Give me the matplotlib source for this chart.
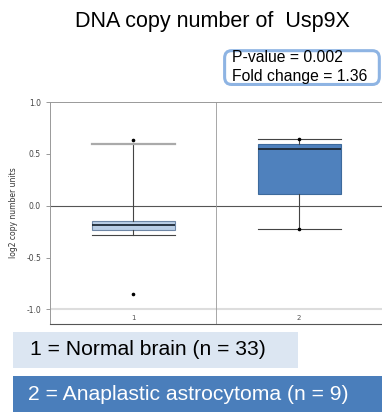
import matplotlib
matplotlib.use("Agg")
import matplotlib.pyplot as plt
from matplotlib.patches import FancyBboxPatch, Rectangle

# 數據
groups = ["1", "2"]
q1 = [-0.235, 0.11]
med = [-0.19, 0.55]
q3 = [-0.145, 0.60]
whislo = [-0.28, -0.22]
whishi = [0.60, 0.645]
fliers = [[0.63, -0.85], [0.645, -0.22]]
legend_labels = ["1 = Normal brain (n = 33)", "2 = Anaplastic astrocytoma (n = 9)"]
stats_text = ["P-value = 0.002", "Fold change = 1.36"]

box_colors = ["#b9cde5", "#4f81bd"]
box_edges = ["#6f87a6", "#3d6a9c"]

fig = plt.figure(figsize=(3.82, 4.12), dpi=100)
ax = fig.add_axes([0.131, 0.214, 0.869, 0.538])

stats = []
for i in range(len(groups)):
    stats.append(dict(med=med[i], q1=q1[i], q3=q3[i], whislo=whislo[i],
                      whishi=whishi[i], fliers=fliers[i], label=groups[i]))

bp = ax.bxp(stats, positions=[1, 2], widths=0.5, capwidths=0.5, patch_artist=True,
            showfliers=True, manage_ticks=False,
            flierprops=dict(marker="o", markersize=1.6, markerfacecolor="black",
                            markeredgecolor="black"),
            medianprops=dict(color="#1f2a36", linewidth=1.3),
            whiskerprops=dict(color="#444444", linewidth=0.8),
            capprops=dict(color="#444444", linewidth=0.8))
for patch, fc, ec in zip(bp["boxes"], box_colors, box_edges):
    patch.set_facecolor(fc)
    patch.set_edgecolor(ec)
    patch.set_linewidth(0.8)
# 第一組上方 cap 為淺灰色粗線
bp["caps"][1].set_color("#aaaaaa")
bp["caps"][1].set_linewidth(1.6)

ax.set_xlim(0.5, 2.5)
ax.set_ylim(-1.14, 1.0)
ax.axhline(0, color="#555555", linewidth=0.8, zorder=0)
ax.axhline(-1.0, color="#dddddd", linewidth=1.5, zorder=0)
ax.axvline(1.5, color="#999999", linewidth=0.6, zorder=0)

for i, g in enumerate(groups):
    ax.text(i + 1, -1.08, g, ha="center", va="center", fontsize=5, color="#555555")

ax.set_yticks([-1.0, -0.5, 0.0, 0.5, 1.0])
ax.set_yticklabels(["-1.0", "-0.5", "0.0", "0.5", "1.0"])
ax.tick_params(axis="y", labelsize=5.5, labelcolor="#444444", color="#888888",
               length=3, width=0.6)
ax.set_xticks([])
ax.set_ylabel("log2 copy number units", fontsize=5.5, color="#333333", labelpad=6)
for s in ["left", "top", "right"]:
    ax.spines[s].set_color("#999999")
    ax.spines[s].set_linewidth(0.7)
ax.spines["bottom"].set_color("#555555")
ax.spines["bottom"].set_linewidth(0.8)

font = ["Liberation Sans", "DejaVu Sans"]

fig.text(0.557, 0.947, "DNA copy number of  Usp9X", ha="center", va="center",
         fontsize=15.5, family=font)

# P-value 框
box = FancyBboxPatch((0.588, 0.795), 0.405, 0.082, transform=fig.transFigure,
                     boxstyle="round,pad=0,rounding_size=0.018",
                     facecolor="white", edgecolor="#8eb4e3", linewidth=2.2)
fig.patches.append(box)
fig.text(0.607, 0.861, stats_text[0], ha="left", va="center", fontsize=11.3, family=font)
fig.text(0.607, 0.815, stats_text[1], ha="left", va="center", fontsize=11.3, family=font)

# 底部圖例
fig.patches.append(Rectangle((0.034, 0.107), 0.746, 0.087, transform=fig.transFigure,
                             facecolor="#dce6f2", edgecolor="none"))
fig.patches.append(Rectangle((0.034, 0.0), 0.966, 0.087, transform=fig.transFigure,
                             facecolor="#4a7ebb", edgecolor="none"))
fig.text(0.078, 0.151, legend_labels[0], ha="left", va="center", fontsize=15.2,
         family=font, color="black")
fig.text(0.073, 0.043, legend_labels[1], ha="left", va="center", fontsize=15.2,
         family=font, color="white")

fig.savefig("out.png", dpi=100)
